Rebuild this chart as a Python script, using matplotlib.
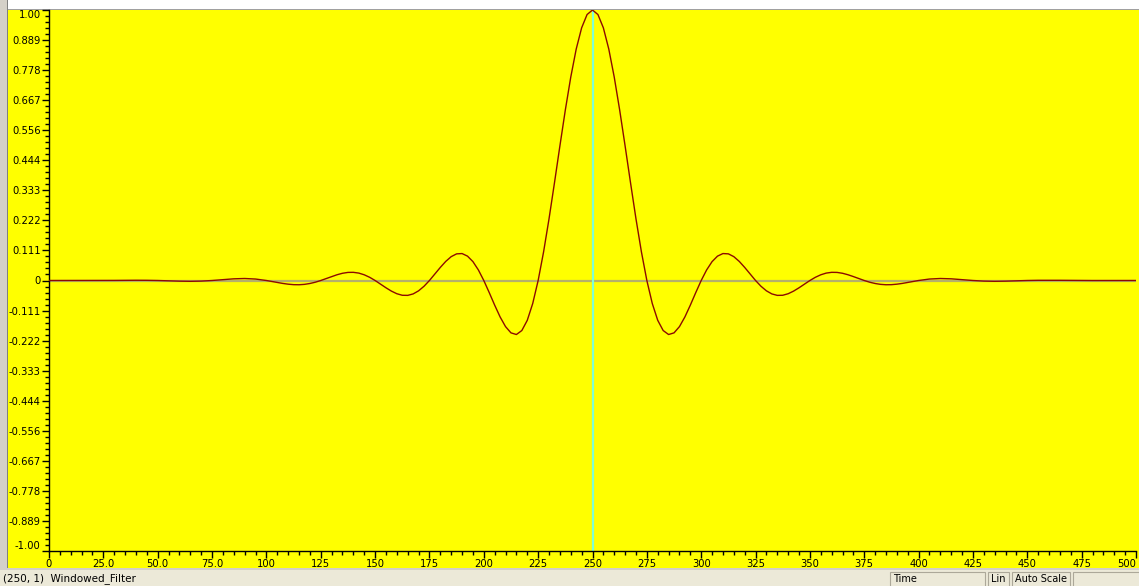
import matplotlib
matplotlib.use("Agg")
import matplotlib.pyplot as plt
from matplotlib.patches import Rectangle
from matplotlib.ticker import FixedLocator, MultipleLocator
import numpy as np

# Windowed-sinc filter kernel: every 5 points in the tails,
# every 2.5 points across the central lobes (100..400)
sample_index = np.concatenate([np.arange(0, 100, 5),
                               np.arange(100, 400.1, 2.5),
                               np.arange(405, 501, 5)])
kernel = [
    # 0 .. 95
    0.0, 0.0, 0.0, -0.0001, -0.0001, 0.0, 0.0003, 0.0007, 0.0009, 0.0007,
    0.0, -0.0012, -0.0024, -0.0030, -0.0022, 0.0, 0.0032, 0.0062, 0.0074, 0.0054,
    # 100 .. 250
    0.0, -0.0036, -0.0073, -0.0108, -0.0136, -0.0154, -0.0157, -0.0143, -0.0111, -0.0063,
    0.0, 0.0071, 0.0145, 0.0213, 0.0267, 0.0299, 0.0302, 0.0274, 0.0211, 0.0118,
    0.0, -0.0133, -0.0269, -0.0392, -0.0489, -0.0546, -0.0550, -0.0496, -0.0382, -0.0213,
    0.0, 0.0240, 0.0484, 0.0706, 0.0882, 0.0985, 0.0996, 0.0901, 0.0698, 0.0391,
    0.0, -0.0447, -0.0911, -0.1347, -0.1705, -0.1936, -0.1997, -0.1849, -0.1471, -0.0851,
    0.0, 0.1058, 0.2279, 0.3607, 0.4973, 0.6302, 0.7519, 0.8553, 0.9340, 0.9832,
    1.0,
    # 252.5 .. 400
    0.9832, 0.9340, 0.8553, 0.7519, 0.6302, 0.4973, 0.3607, 0.2279, 0.1058, 0.0,
    -0.0851, -0.1471, -0.1849, -0.1997, -0.1936, -0.1705, -0.1347, -0.0911, -0.0447, 0.0,
    0.0391, 0.0698, 0.0901, 0.0996, 0.0985, 0.0882, 0.0706, 0.0484, 0.0240, 0.0,
    -0.0213, -0.0382, -0.0496, -0.0550, -0.0546, -0.0489, -0.0392, -0.0269, -0.0133, 0.0,
    0.0118, 0.0211, 0.0274, 0.0302, 0.0299, 0.0267, 0.0213, 0.0145, 0.0071, 0.0,
    -0.0063, -0.0111, -0.0143, -0.0157, -0.0154, -0.0136, -0.0108, -0.0073, -0.0036, 0.0,
    # 405 .. 500
    0.0054, 0.0074, 0.0062, 0.0032, 0.0, -0.0022, -0.0030, -0.0024, -0.0012, 0.0,
    0.0007, 0.0009, 0.0007, 0.0003, 0.0, -0.0001, -0.0001, 0.0, 0.0, 0.0,
]
cursor_x = 250
cursor_y = 1
series_name = "Windowed_Filter"

y_tick_values = [k / 9 for k in range(-9, 10)]
y_tick_labels = ["-1.00", "-0.889", "-0.778", "-0.667", "-0.556", "-0.444",
                 "-0.333", "-0.222", "-0.111", "0", "0.111", "0.222", "0.333",
                 "0.444", "0.556", "0.667", "0.778", "0.889", "1.00"]
x_tick_values = list(range(0, 501, 25))
x_tick_labels = ["0", "25.0", "50.0", "75.0", "100", "125", "150", "175", "200",
                 "225", "250", "275", "300", "325", "350", "375", "400", "425",
                 "450", "475", "500"]
status_fields = ["Time", "Lin", "Auto Scale", ""]

W, H = 1139, 586
fig = plt.figure(figsize=(W / 100, H / 100), dpi=100, facecolor="white")


def px_rect(x0, y0, x1, y1, zorder=-5, **kw):
    """Rectangle given in pixel coordinates from the top-left corner."""
    return Rectangle((x0 / W, 1 - y1 / H), (x1 - x0) / W, (y1 - y0) / H,
                     transform=fig.transFigure, zorder=zorder, **kw)


YELLOW = "#ffff00"
# window chrome: left strip, top border line, yellow panel, status bar
fig.patches.append(px_rect(0, 0, 7, 570, facecolor="#d4d0c8", edgecolor="none"))
fig.patches.append(px_rect(7, 0, 8, 570, facecolor="#808080", edgecolor="none"))
fig.patches.append(px_rect(8, 9, W, 10, facecolor="#a0a0a0", edgecolor="none"))
fig.patches.append(px_rect(8, 10, W, 568, facecolor=YELLOW, edgecolor="none"))
fig.patches.append(px_rect(0, 568, W, 570, facecolor="#d4d0c8", edgecolor="none"))
fig.patches.append(px_rect(0, 570, W, H, facecolor="#ece9d8", edgecolor="none"))

# status bar field boxes
box_edges = [(890, 985), (988, 1009), (1012, 1070), (1073, W + 2)]
for (bx0, bx1), label in zip(box_edges, status_fields):
    fig.patches.append(px_rect(bx0, 572, bx1, H + 2, zorder=-4, facecolor="none",
                               edgecolor="#aca899", linewidth=0.8))
    if label:
        fig.text((bx0 + 3) / W, 1 - 579 / H, label, fontsize=7.0,
                 family="DejaVu Sans", color="#000000", va="center", ha="left")
fig.text(3 / W, 1 - 579 / H, f"({cursor_x}, {cursor_y})  {series_name}",
         fontsize=7.5, family="DejaVu Sans", color="#000000", va="center", ha="left")

# plot area
left, right, top, bottom = 49, 1136, 10, 551
ax = fig.add_axes([left / W, 1 - bottom / H, (right - left) / W, (bottom - top) / H])
ax.set_zorder(1)
ax.set_facecolor(YELLOW)
ax.set_xlim(0, 500)
ax.set_ylim(-1, 1)

ax.axhline(0, color="#b4b06a", linewidth=1.6, zorder=1)
ax.axvline(cursor_x, color="#7fffd4", linewidth=1.6, zorder=2)
ax.plot(sample_index, kernel, color="#8b0a00", linewidth=1.0, zorder=3)

for side in ("top", "right"):
    ax.spines[side].set_visible(False)
for side in ("left", "bottom"):
    ax.spines[side].set_color("black")
    ax.spines[side].set_linewidth(1.0)

ax.yaxis.set_major_locator(FixedLocator(y_tick_values))
ax.yaxis.set_minor_locator(MultipleLocator(1 / 45))
ax.set_yticklabels(y_tick_labels)
ax.xaxis.set_major_locator(FixedLocator(x_tick_values))
ax.xaxis.set_minor_locator(MultipleLocator(5))
ax.set_xticklabels(x_tick_labels)

ax.tick_params(which="major", direction="out", length=5, width=1, color="black",
               labelsize=7.2, labelcolor="#000000", pad=1)
ax.tick_params(which="minor", direction="out", length=3, width=1, color="black")

ylabels = ax.get_yticklabels()
ylabels[0].set_va("bottom")
ylabels[-1].set_va("top")
xlabels = ax.get_xticklabels()
xlabels[-1].set_ha("right")

fig.savefig("out.png", dpi=100, facecolor=fig.get_facecolor())
